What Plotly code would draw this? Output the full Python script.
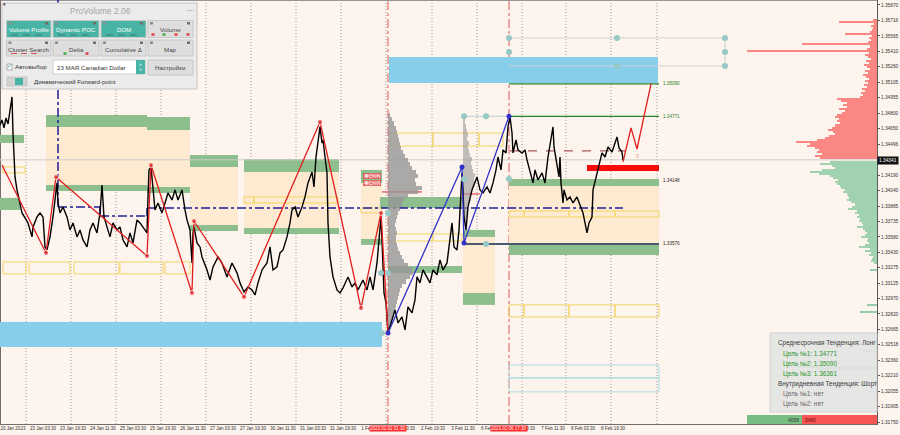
import plotly.graph_objects as go

# ---------------- data ----------------
time_labels = ["20 Jan 2023", "23 Jan 03:30", "23 Jan 19:30", "24 Jan 11:30", "25 Jan 03:30",
               "25 Jan 19:30", "26 Jan 11:30", "27 Jan 03:30", "27 Jan 19:30", "30 Jan 11:30",
               "31 Jan 03:30", "31 Jan 19:30", "1 Feb 11:30", "2 Feb 03:30", "2 Feb 19:30",
               "3 Feb 11:30", "6 Feb 03:30", "6 Feb 19:30", "7 Feb 11:30", "8 Feb 03:30", "8 Feb 19:30"]
time_label_bars = [13, 43, 73, 103, 133, 163, 193, 223, 253, 283, 313, 343, 373, 403, 433,
                   463, 493, 523, 553, 583, 613]
grid_bars = [26, 71, 116, 161, 206, 251, 296, 341, 386, 432, 477, 522, 566, 611, 657]

price_ticks = [1.35870, 1.35716, 1.35565, 1.35410, 1.35260, 1.35105, 1.34955, 1.34800, 1.34650,
               1.34496, 1.34190, 1.34040, 1.33885, 1.33735, 1.33580, 1.33430, 1.33275, 1.33125,
               1.32970, 1.32820, 1.32665, 1.32518, 1.32360, 1.32210, 1.32055, 1.31905, 1.31750]
current_price = 1.34341

price_x = [0, 2, 4, 6, 8, 10, 12, 13, 14, 15, 17, 19, 22, 25, 28, 32, 33, 37, 40, 43, 45, 47, 50, 53,
           55, 57, 58, 60, 63, 67, 70, 73, 77, 80, 83, 87, 90, 93, 97, 100, 102, 104, 107, 110, 113,
           117, 120, 123, 127, 130, 133, 137, 140, 143, 147, 148, 149, 151, 153, 155, 158, 162, 165,
           168, 172, 175, 178, 182, 185, 187, 190, 192, 193, 194, 197, 200,
           202, 207, 210, 213, 218, 222, 227, 232, 237, 240, 244, 248, 252, 255, 258, 262, 267, 270,
           273, 277, 280, 283, 287, 290, 292, 295, 298, 302, 305, 308, 312, 314, 316, 318, 320, 322,
           323, 325, 327, 328, 330, 333, 337, 340, 343, 348, 352, 355, 358, 363, 367, 370, 373, 377,
           378, 381, 382, 384, 386,
           388, 392, 395, 398, 402, 405, 408, 412, 415, 417, 420, 423, 427, 430, 433, 437, 440, 443,
           447, 450, 452, 454, 457, 459, 462, 463, 464, 466, 468, 472, 475, 477, 480, 483, 487, 490,
           493, 496, 498, 501, 503, 506, 508, 510, 512, 513, 516, 518, 522, 525, 527, 530, 533, 535,
           538, 542, 545, 548, 551, 553, 554, 557, 559, 560, 561, 563, 564, 567, 570, 573, 577, 580,
           583, 585, 587, 589, 592, 593, 597, 600, 602, 605, 608, 612, 615, 617, 619, 622, 623]
price_y = [1.34685, 1.34735, 1.34656, 1.34754, 1.34695, 1.34814, 1.34962, 1.34606, 1.34271, 1.34172,
           1.34044, 1.33945, 1.33817, 1.33767, 1.33718, 1.33580, 1.33679, 1.33777, 1.33817, 1.33777,
           1.33481, 1.33452, 1.33580, 1.33777, 1.33975, 1.34113, 1.33915, 1.33817, 1.33876, 1.33777,
           1.33649, 1.33718, 1.33580, 1.33649, 1.33550, 1.33481, 1.33649, 1.33718, 1.33619, 1.33817,
           1.34093, 1.33777, 1.33679, 1.33580, 1.33718, 1.33649, 1.33679, 1.33550, 1.33481, 1.33619,
           1.33521, 1.33748, 1.33718, 1.33679, 1.33619, 1.33975, 1.34241, 1.34271, 1.34073, 1.33846,
           1.33915, 1.33817, 1.33915, 1.34014, 1.33945, 1.34044, 1.33945, 1.34044, 1.33846, 1.33748,
           1.33649, 1.33323, 1.33619, 1.33679, 1.33521, 1.33481,
           1.33382, 1.33254, 1.33155, 1.33284, 1.33382, 1.33323, 1.33185, 1.33323, 1.33225, 1.33126,
           1.33037, 1.33086, 1.33057, 1.33007, 1.33126, 1.33254, 1.33323, 1.33481, 1.33254, 1.33284,
           1.33422, 1.33452, 1.33580, 1.33718, 1.33846, 1.33876, 1.33777, 1.33876, 1.33975, 1.34113,
           1.34221, 1.34073, 1.34369, 1.34537, 1.34666, 1.34508, 1.34537, 1.34369, 1.34212, 1.33718,
           1.33382, 1.33185, 1.33057, 1.33027, 1.33076, 1.33185, 1.33086, 1.33126, 1.33057, 1.33155,
           1.33057, 1.33185, 1.33057, 1.33323, 1.33452, 1.33777, 1.33550, 1.33027, 1.32928,
           1.32632, 1.32761, 1.32859, 1.32731, 1.32790, 1.32662, 1.32889, 1.32830, 1.32958, 1.33185,
           1.33126, 1.33254, 1.33185, 1.33126, 1.33254, 1.33205, 1.33353, 1.33254, 1.33323, 1.33550,
           1.33718, 1.33481, 1.33452, 1.33649, 1.34212, 1.34044, 1.33777, 1.33649, 1.33876, 1.34044,
           1.34113, 1.34172, 1.34044, 1.34014, 1.34073, 1.34014, 1.34113, 1.34241, 1.34369, 1.34241,
           1.34439, 1.34409, 1.34666, 1.34764, 1.34606, 1.34409, 1.34537, 1.34439, 1.34409, 1.34439,
           1.34340, 1.34212, 1.34113, 1.34241, 1.34142, 1.34212, 1.34113, 1.34369, 1.34537, 1.34666,
           1.34468, 1.34310, 1.34172, 1.34369, 1.34113, 1.33915, 1.34044, 1.33945, 1.33975, 1.33915,
           1.33975, 1.33896, 1.33817, 1.33718, 1.33619, 1.33718, 1.33777, 1.34044, 1.34212, 1.34340,
           1.34409, 1.34369, 1.34468, 1.34419, 1.34508, 1.34567, 1.34458, 1.34419, 1.34340]

zigzag_red_x = [2, 46, 56, 147, 151, 192, 194, 244, 320, 361, 381, 388]
zigzag_red_y = [1.34290, 1.33422, 1.34172, 1.33392, 1.34290, 1.33027, 1.33737, 1.32987, 1.34715,
                1.32878, 1.33817, 1.32632]
zigzag_blue_x = [388, 462, 464, 509]
zigzag_blue_y = [1.32632, 1.34271, 1.33521, 1.34771]
forecast_x = [623, 631, 637, 651]
forecast_y = [1.34320, 1.34656, 1.34448, 1.35090]

target_levels = [1.35090, 1.34771]
support_levels = [1.34148, 1.33511]

# zones: top band, inner top, inner bottom, bottom band
zone_x0 = [46, 147, 190, 244, 361, 463, 509]
zone_x1 = [147, 190, 238, 339, 382, 495, 659]
zone_top = [1.34784, 1.34764, 1.34389, 1.34350, 1.34241, 1.33649, 1.34152]
zone_top_in = [1.34666, 1.34636, 1.34271, 1.34221, 1.34113, 1.33580, 1.34083]
zone_bot_in = [1.34093, 1.34073, 1.33698, 1.33669, 1.33560, 1.33027, 1.33511]
zone_bot = [1.34034, 1.34014, 1.33639, 1.33609, 1.33501, 1.32909, 1.33402]

band_x0 = [0, 0, 380, 388]
band_x1 = [24, 20, 462, 462]
band_hi = [1.34587, 1.33965, 1.33975, 1.33294]
band_lo = [1.34508, 1.33846, 1.33866, 1.33225]

ybox_x0 = [3, 3, 29, 74, 120, 165, 244, 254, 361, 390, 433, 479, 388, 433,
           509, 524, 569, 615, 509, 524, 569, 615]
ybox_x1 = [25, 26, 70, 119, 163, 190, 254, 338, 382, 433, 479, 503, 433, 462,
           524, 569, 615, 659, 524, 569, 615, 659]
ybox_hi = [1.34271, 1.33333, 1.33333, 1.33333, 1.33333, 1.33333, 1.33975, 1.33975, 1.33866,
           1.34606, 1.34606, 1.34606, 1.33609, 1.33609,
           1.33836, 1.33836, 1.33836, 1.33836, 1.32909, 1.32909, 1.32909, 1.32909]
ybox_lo = [1.34212, 1.33215, 1.33215, 1.33215, 1.33215, 1.33215, 1.33915, 1.33915, 1.33817,
           1.34478, 1.34478, 1.34478, 1.33540, 1.33540,
           1.33777, 1.33777, 1.33777, 1.33777, 1.32790, 1.32790, 1.32790, 1.32790]

sky_x0 = [389, 0]
sky_x1 = [658, 382]
sky_hi = [1.35356, 1.32741]
sky_lo = [1.35100, 1.32494]

cyan_x0 = [509, 509]
cyan_x1 = [659, 659]
cyan_hi = [1.32316, 1.32188]
cyan_lo = [1.32188, 1.32050]

teal_dot_x = [464, 486, 464, 509, 486, 381, 388, 388, 382, 509, 509, 617, 617, 725, 725, 725]
teal_dot_y = [1.34771, 1.34771, 1.34152, 1.34152, 1.33511, 1.33225, 1.33225, 1.33817, 1.32632,
              1.35544, 1.35406, 1.35544, 1.35268, 1.35544, 1.35406, 1.35268]

# right-hand volume profile (bins of 0.0002)
red_prof_start = 1.34360
red_prof_vol = [57, 62, 55, 60, 58, 62, 70, 67, 81, 60, 52, 48, 42, 44, 49, 45, 42, 37, 40, 38,
                42, 40, 35, 32, 38, 30, 34, 30, 36, 40, 17, 14, 16, 12, 15, 10, 13, 9, 12, 8,
                11, 14, 9, 12, 7, 10, 13, 8, 11, 6, 9, 12, 8, 130, 10, 7, 75, 9, 6, 8,
                5, 32, 7, 5, 4, 6, 3, 38, 4]
green_prof_start = 1.34320
green_prof_vol = [47, 57, 45, 42, 55, 67, 58, 47, 44, 39, 42, 40, 37, 36, 32, 34, 30, 29, 28, 30,
                  26, 22, 25, 29, 20, 22, 18, 20, 17, 18, 15, 14, 20, 14, 12, 10, 12, 16, 9, 10,
                  8, 12, 18, 7, 12, 6, 8, 4, 5, 6, 3]
green_extra_levels = [1.33254, 1.32909, 1.32840, 1.32533, 1.32454, 1.32297, 1.32277, 1.32050]
green_extra_vol = [7, 10, 17, 12, 14, 80, 60, 9]
prof_step = 0.0002

# session profiles (bins of 0.0004)
gray_prof_start = 1.32700
gray_prof_vol = [3, 4, 5, 6, 7, 8, 9, 10, 11, 12, 14, 18, 22, 25, 24, 20, 16, 14, 12, 10, 9, 8, 8,
                 9, 8, 7, 8, 9, 10, 12, 14, 16, 20, 30, 34, 28, 27, 30, 28, 24, 22, 20, 17, 15, 13,
                 12, 11, 10, 9, 8, 6, 4, 2]
gray2_prof_start = 1.33750
gray2_prof_vol = [3, 4, 5, 4, 6, 8, 7, 9, 10, 12, 11, 12, 10, 9, 8, 9, 7, 6, 5, 6, 4, 5, 4, 3, 2, 2]
session_step = 0.0004

buy_volume = 4056
sell_volume = 5480

# ---------------- figure ----------------
BG = "#fdf4ee"
GREEN = "rgb(141,190,141)"
BEIGE = "rgb(253,234,208)"
YEL = "rgb(243,213,100)"
SKY = "rgb(135,206,235)"
W_PLOT, H_PLOT = 877.0, 424.0
XMAX = 877


def X(px):
    return px / W_PLOT


def Y(py):
    return 1 - py / H_PLOT


shapes = []
ann = []


def rect(x0, x1, y0, y1, fill="rgba(0,0,0,0)", line=None, lw=0, xref="x", yref="y",
         layer="below", dash="solid"):
    shapes.append(dict(type="rect", x0=x0, x1=x1, y0=y0, y1=y1, xref=xref, yref=yref,
                       fillcolor=fill, layer=layer,
                       line=dict(color=line or "rgba(0,0,0,0)", width=lw, dash=dash)))


def line(x0, x1, y0, y1, color, width=1, dash="solid", xref="x", yref="y", layer="below"):
    shapes.append(dict(type="line", x0=x0, x1=x1, y0=y0, y1=y1, xref=xref, yref=yref,
                       layer=layer, line=dict(color=color, width=width, dash=dash)))


def text(x, y, s, size=6, color="#333", anchor="left", bg=None, xref="paper", yref="paper",
         family="Liberation Sans, Arial, sans-serif", pad=0):
    d = dict(x=x, y=y, xref=xref, yref=yref, text=s, showarrow=False, xanchor=anchor,
             yanchor="middle", font=dict(size=size, color=color, family=family), borderpad=pad)
    if bg:
        d["bgcolor"] = bg
    ann.append(d)


# sky blue zones
for a, b, hi, lo in zip(sky_x0, sky_x1, sky_hi, sky_lo):
    rect(a, b, lo, hi, fill=SKY)
# supply / demand zones
for a, b, t, ti, bi, bo in zip(zone_x0, zone_x1, zone_top, zone_top_in, zone_bot_in, zone_bot):
    rect(a, b, bi, ti, fill=BEIGE)
    rect(a, b, ti, t, fill=GREEN)
    rect(a, b, bo, bi, fill=GREEN)
for a, b, hi, lo in zip(band_x0, band_x1, band_hi, band_lo):
    rect(a, b, lo, hi, fill=GREEN)
for a, b, hi, lo in zip(ybox_x0, ybox_x1, ybox_hi, ybox_lo):
    rect(a, b, lo, hi, line=YEL, lw=1)
for a, b, hi, lo in zip(cyan_x0, cyan_x1, cyan_hi, cyan_lo):
    rect(a, b, lo, hi, line="rgb(170,220,225)", lw=1)

# grid lines
for g in grid_bars:
    line(g, g, 0, 1, "rgba(130,130,130,0.8)", 1, "1px,2px", yref="paper")

# current price line
line(0, XMAX, current_price, current_price, "rgb(205,205,205)", 1)
# top / left border
line(0, 1, 1, 1, "rgb(150,150,150)", 2, xref="paper", yref="paper")
line(0, 0, 0, 1, "rgb(110,110,110)", 2, xref="paper", yref="paper")

# session vertical lines
line(388, 388, 0, 1, "rgb(225,90,90)", 1, "dashdot", yref="paper")
line(509, 509, 0, 1, "rgb(225,90,90)", 1, "dashdot", yref="paper")

# POC dash-dot (navy)
line(58, 58, 1.33876, 1.35919, "rgb(30,30,150)", 1.5, "dashdot")
line(58, 100, 1.33876, 1.33876, "rgb(30,30,150)", 1.5, "dashdot")
line(100, 100, 1.33876, 1.33787, "rgb(30,30,150)", 1.5)
line(100, 147, 1.33787, 1.33787, "rgb(30,30,150)", 1.5, "dashdot")
line(147, 147, 1.33787, 1.33866, "rgb(30,30,150)", 1.5)
line(147, 623, 1.33866, 1.33866, "rgb(30,30,150)", 1.5, "dashdot")

# target / support lines
line(509, 659, target_levels[0], target_levels[0], "rgb(40,130,40)", 1.2)
line(509, 659, target_levels[1], target_levels[1], "rgb(40,130,40)", 1.2)
line(464, 509, target_levels[1], target_levels[1], "rgb(185,205,205)", 1)
line(464, 659, support_levels[1], support_levels[1], "rgb(75,90,110)", 2)
line(509, 725, 1.35544, 1.35544, "rgb(210,210,210)", 1)
line(509, 725, 1.35268, 1.35268, "rgb(210,210,210)", 1)
line(725, 725, 1.35268, 1.35544, "rgb(200,210,210)", 1)
line(382, 422, 1.34024, 1.34024, "rgb(220,40,40)", 1)
line(463, 480, 1.34004, 1.34004, "rgb(220,40,40)", 1)
line(510, 625, 1.34429, 1.34429, "rgb(150,50,50)", 1, "dash")
# red signal bar
rect(587, 659, 1.34231, 1.34290, fill="rgb(255,10,10)")

fig = go.Figure()

# session profiles
fig.add_trace(go.Bar(orientation="h", base=388,
                     y=[gray_prof_start + session_step * i for i in range(len(gray_prof_vol))],
                     x=gray_prof_vol, width=session_step,
                     marker=dict(color="rgba(150,150,150,0.8)", line=dict(width=0))))
fig.add_trace(go.Bar(orientation="h", base=463,
                     y=[gray2_prof_start + session_step * i for i in range(len(gray2_prof_vol))],
                     x=gray2_prof_vol, width=session_step,
                     marker=dict(color="rgba(150,150,150,0.6)", line=dict(width=0))))
# right profile
fig.add_trace(go.Bar(orientation="h", base=[XMAX - v for v in red_prof_vol],
                     y=[red_prof_start + prof_step * i for i in range(len(red_prof_vol))],
                     x=red_prof_vol, width=prof_step,
                     marker=dict(color="rgb(250,135,130)", line=dict(width=0))))
fig.add_trace(go.Bar(orientation="h", base=[XMAX - v for v in green_prof_vol],
                     y=[green_prof_start - prof_step * i for i in range(len(green_prof_vol))],
                     x=green_prof_vol, width=prof_step,
                     marker=dict(color="rgb(160,210,175)", line=dict(width=0))))
fig.add_trace(go.Bar(orientation="h", base=[XMAX - v for v in green_extra_vol],
                     y=green_extra_levels, x=green_extra_vol, width=prof_step * 0.6,
                     marker=dict(color="rgb(150,205,170)", line=dict(width=0))))

# price
fig.add_trace(go.Scatter(x=price_x, y=price_y, mode="lines",
                         line=dict(color="black", width=1.4)))
# zigzags
fig.add_trace(go.Scatter(x=zigzag_red_x, y=zigzag_red_y, mode="lines+markers",
                         line=dict(color="rgb(225,30,30)", width=1.3),
                         marker=dict(color="rgb(225,30,30)",
                                     size=[0] + [5] * (len(zigzag_red_x) - 2) + [0])))
fig.add_trace(go.Scatter(x=zigzag_blue_x, y=zigzag_blue_y, mode="lines+markers",
                         line=dict(color="rgb(50,50,200)", width=1.3),
                         marker=dict(color="rgb(50,50,200)", size=5)))
fig.add_trace(go.Scatter(x=forecast_x, y=forecast_y, mode="lines",
                         line=dict(color="rgb(225,30,30)", width=1.3)))
fig.add_trace(go.Scatter(x=teal_dot_x, y=teal_dot_y, mode="markers",
                         marker=dict(color="rgb(150,200,198)", size=6)))

# level labels
text(662, target_levels[0], f"{target_levels[0]:.5f}", 4.6, "rgb(40,130,40)", xref="x", yref="y")
text(662, target_levels[1], f"{target_levels[1]:.5f}", 4.6, "rgb(40,130,40)", xref="x", yref="y")
text(662, support_levels[0] - 0.00008, f"{support_levels[0]:.5f}", 4.6, "#222", xref="x", yref="y")
text(662, support_levels[1] + 0.00008, "1.33570", 4.6, "#222", xref="x", yref="y")
text(637, 1.34380, "⇧", 6, "rgb(235,120,120)", anchor="center", xref="x", yref="y")
# red price boxes
for yy, s in [(1.34182, "1.34202"), (1.34113, "1.34000")]:
    ann.append(dict(x=372, y=yy, xref="x", yref="y", text=s, showarrow=False,
                    font=dict(size=4.5, color="rgb(220,40,40)", family="Liberation Sans"),
                    bgcolor="rgb(255,225,225)", bordercolor="rgb(220,40,40)", borderwidth=0.6,
                    borderpad=0))

# current price tag
text(1.0, Y(160), f"{current_price:.5f}", 4.8, "white", bg="#111111", pad=1)

# bottom red date labels
text(X(388), -0.0106, "2023.02.02 01:30", 4.5, "white", anchor="center", bg="rgb(255,40,40)")
text(X(509), -0.0106, "2023.02.06 17:30", 4.5, "white", anchor="center", bg="rgb(255,40,40)")

# buy/sell bar
rect(747, 802, Y(424), Y(415), fill="rgb(120,190,130)", xref="x", yref="paper", layer="above")
rect(802, 877, Y(424), Y(415), fill="rgb(248,85,85)", xref="x", yref="paper", layer="above")
text(X(800), Y(419.5), str(buy_volume), 5, "#333", anchor="right")
text(X(804), Y(419.5), str(sell_volume), 5, "#6a0f0f", anchor="left")

# info box
rect(X(770), X(877), Y(412), Y(333), fill="rgba(228,228,228,0.92)", line="rgb(210,210,210)",
     lw=1, xref="paper", yref="paper", layer="above")
info = [(777, 343, "Среднесрочная Тенденция: Лонг", "#3a3a3a"),
        (782, 354, "Цель №1: 1.34771", "rgb(40,150,40)"),
        (782, 364, "Цель №2: 1.35090", "rgb(40,150,40)"),
        (782, 374, "Цель №3: 1.36361", "rgb(40,150,40)"),
        (777, 384, "Внутридневная Тенденция: Шорт", "#3a3a3a"),
        (782, 394, "Цель №1: нет", "#666"),
        (782, 404, "Цель №2: нет", "#666")]
for px, py, s, c in info:
    text(X(px), Y(py), s, 6.4, c)

# ProVolume panel
rect(X(2), X(197), Y(89), Y(3), fill="rgb(235,235,235)", line="rgb(195,195,195)", lw=1,
     xref="paper", yref="paper", layer="above")
text(X(100), Y(11), "ProVolume 2.06", 8.5, "rgb(165,165,165)", anchor="center")
text(X(190), Y(10), "—", 6, "rgb(130,130,130)", anchor="center")
text(X(4), Y(4), "▾", 5, "#222", anchor="center")
buttons = [("Volume Profile", 6.5, 51, 20.5, 37.5, True), ("Dynamic POC", 53, 99, 20.5, 37.5, True),
           ("DOM", 101, 146, 20.5, 37.5, True), ("Volume", 148, 193, 20.5, 37.5, False),
           ("Cluster Search", 6.5, 51, 40, 56, False), ("Delta", 53, 99, 40, 56, False),
           ("Cumulative Δ", 101, 146, 40, 56, False), ("Map", 148, 193, 40, 56, False)]
for label, a, b, t, bt, on in buttons:
    rect(X(a), X(b), Y(bt), Y(t), fill="rgb(72,180,165)" if on else "rgb(222,222,222)",
         line="rgb(200,200,200)", lw=1, xref="paper", yref="paper", layer="above")
    text(X((a + b) / 2), Y(t + 9), label, 6.2, "white" if on else "#444", anchor="center")
    rect(X(b - 6), X(b - 3), Y(t + 4), Y(t + 1.5), fill="rgb(110,110,110)", xref="paper",
         yref="paper", layer="above")
    rect(X(a + 2), X(a + 5), Y(t + 4), Y(t + 1.5), fill="rgb(140,140,140)", xref="paper",
         yref="paper", layer="above")
for px, c in [(153, "rgb(220,60,60)"), (164, "rgb(60,170,60)"), (176, "rgb(220,60,60)"),
              (188, "rgb(220,60,60)"), (65, "rgb(60,170,60)"), (87, "rgb(220,60,60)")]:
    py = 34.5 if px > 140 else 53.5
    rect(X(px - 1.5), X(px + 1.5), Y(py + 1.2), Y(py - 1.2), fill=c, xref="paper", yref="paper",
         layer="above")
for a in [11, 21, 31]:
    rect(X(a), X(a + 6), Y(54), Y(53), fill="rgb(220,80,80)", xref="paper", yref="paper",
         layer="above")
for a0 in [8, 55, 103]:
    for k in range(3):
        rect(X(a0 + 3 + 12 * k), X(a0 + 10 + 12 * k), Y(35.5), Y(34.5), fill="rgb(60,120,115)",
             xref="paper", yref="paper", layer="above")
# checkbox row
rect(X(7), X(12), Y(70), Y(64), fill="white", line="rgb(150,150,150)", lw=0.8, xref="paper",
     yref="paper", layer="above")
text(X(9.5), Y(66.5), "✓", 6, "rgb(60,160,150)", anchor="center")
text(X(14), Y(67), "Автовыбор", 6.2, "#333")
rect(X(53), X(145), Y(74), Y(60), fill="white", line="rgb(205,205,205)", lw=1, xref="paper",
     yref="paper", layer="above")
text(X(56), Y(67.5), "23 MAR Canadian Dollar", 6.2, "#333")
rect(X(136), X(145), Y(74), Y(60), fill="rgb(72,180,165)", xref="paper", yref="paper",
     layer="above")
text(X(140.5), Y(64.5), "˄", 5, "white", anchor="center")
text(X(140.5), Y(70), "˅", 5, "white", anchor="center")
rect(X(148), X(193), Y(75), Y(60), fill="rgb(222,222,222)", line="rgb(200,200,200)", lw=1,
     xref="paper", yref="paper", layer="above")
text(X(170.5), Y(68), "Настройки", 6.2, "#444", anchor="center")
rect(X(7), X(27), Y(86), Y(77), fill="rgb(210,210,210)", line="rgb(190,190,190)", lw=0.8,
     xref="paper", yref="paper", layer="above")
rect(X(15), X(23), Y(85), Y(78), fill="rgb(72,180,165)", xref="paper", yref="paper",
     layer="above")
text(X(33), Y(81.5), "Динамический Forward-point", 6.2, "#333")

fig.update_layout(
    width=900, height=435,
    margin=dict(l=0, r=23, t=0, b=11, pad=0),
    paper_bgcolor=BG, plot_bgcolor=BG,
    showlegend=False, hovermode=False, barmode="overlay", bargap=0,
    shapes=shapes, annotations=ann,
    font=dict(family="Liberation Sans, Arial, sans-serif"),
    xaxis=dict(range=[0, XMAX], showgrid=False, zeroline=False, showline=True,
               linecolor="rgb(110,110,110)", linewidth=1, tickvals=time_label_bars,
               ticktext=time_labels, ticks="", tickfont=dict(size=4.5, color="#333"),
               automargin=False, fixedrange=True),
    yaxis=dict(range=[1.31733, 1.35919], side="right", showgrid=False, zeroline=False,
               showline=True, linecolor="rgb(90,90,90)", linewidth=1,
               tickvals=price_ticks, ticktext=[f"{v:.5f}" for v in price_ticks],
               ticks="outside", ticklen=2, tickcolor="rgb(90,90,90)",
               tickfont=dict(size=4.8, color="#333"), automargin=False, fixedrange=True),
)

fig.write_html("out.html", config={"displayModeBar": False},
               post_script="document.body.style.margin='0';document.body.style.overflow='hidden';")
